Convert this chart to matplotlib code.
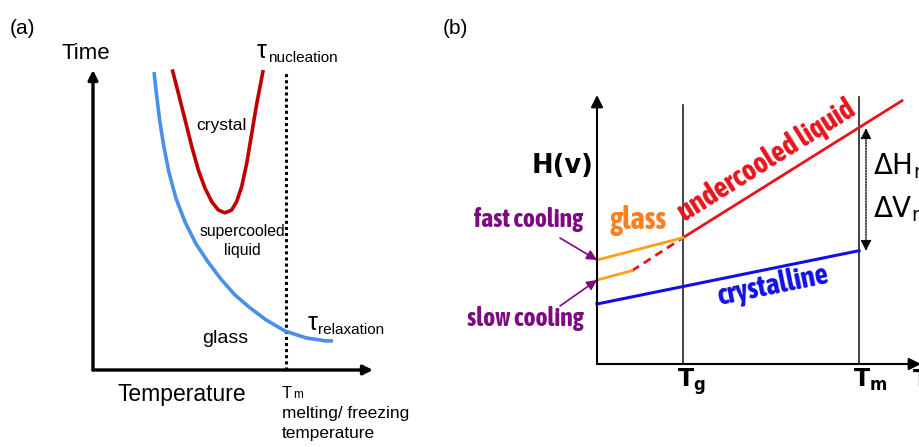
import numpy as np
import matplotlib.pyplot as plt

plt.rcParams['font.family'] = ['Liberation Sans', 'DejaVu Sans']
plt.rcParams['mathtext.fontset'] = 'dejavusans'

# ---- panel (a): time vs temperature ----
# relaxation time curve (blue)
relax_T = [2.18, 2.27, 2.38, 2.52, 2.71, 2.96, 3.29, 3.68, 4.11, 4.57, 5.07,
           5.61, 6.18, 6.86, 7.61, 8.32, 8.57]
relax_t = [9.93, 9.17, 8.33, 7.50, 6.60, 5.73, 4.93, 4.20, 3.60, 3.03, 2.50,
           2.07, 1.67, 1.30, 1.07, 0.97, 0.97]
# nucleation time curve (red)
nucl_T = [2.83, 3.05, 3.29, 3.53, 3.76, 4.00, 4.24, 4.48, 4.71, 4.95, 5.13,
          5.31, 5.49, 5.67, 5.85, 6.08]
nucl_t = [10.02, 9.22, 8.33, 7.44, 6.67, 6.06, 5.61, 5.33, 5.24, 5.33, 5.61,
          6.11, 6.89, 7.89, 8.89, 10.00]
Tm_a = 6.88

# ---- panel (b): enthalpy / volume vs temperature ----
Tg = 8.6
Tm = 26.2
liquid_T = [8.6, 30.5]
liquid_H = [12.63, 26.33]
liquid_ext_T = [3.5, 8.6]
liquid_ext_H = [9.33, 12.63]
fast_T = [0.0, 8.6]
fast_H = [10.4, 12.63]
slow_T = [0.0, 3.5]
slow_H = [8.4, 9.33]
cryst_T = [0.0, 26.2]
cryst_H = [6.0, 11.33]
gap_top = 23.6
gap_bot = 11.3

W, H = 920, 447
fig = plt.figure(figsize=(W / 100, H / 100), dpi=100)


def px_axes(x0, y0, x1, y1):
    # axes placed by pixel box (x0,y0 = bottom-left corner, y measured from top)
    return fig.add_axes([x0 / W, 1 - y0 / H, (x1 - x0) / W, (y0 - y1) / H])


narrow = ['Asap Condensed', 'DejaVu Sans']

# ================= (a) =================
ax = px_axes(93, 370, 373, 70)
ax.set_xlim(0, 10)
ax.set_ylim(0, 10)
ax.axis('off')

arrow_a = dict(arrowstyle='-|>', color='black', lw=2.4,
               mutation_scale=14, shrinkA=0, shrinkB=0)
ax.annotate('', xy=(0, 10), xytext=(0, 0), arrowprops=arrow_a,
            annotation_clip=False)
ax.annotate('', xy=(10, 0), xytext=(0, 0), arrowprops=arrow_a,
            annotation_clip=False)

ax.plot([Tm_a, Tm_a], [0, 9.95], color='black', lw=2.2,
        linestyle=(0, (1, 1)), clip_on=False)
ax.plot(relax_T, relax_t, color='#4b8fe8', lw=2.6, clip_on=False,
        solid_capstyle='butt', solid_joinstyle='round')
ax.plot(nucl_T, nucl_t, color='#c00000', lw=2.6, clip_on=False,
        solid_capstyle='butt', solid_joinstyle='round')

ax.text(-1.11, 10.37, 'Time', fontsize=16, va='baseline')
ax.text(0.89, -1.05, 'Temperature', fontsize=16.5, va='baseline')
ax.text(4.6, 8.0, 'crystal', fontsize=12.5, ha='center', va='baseline')
ax.text(5.32, 4.48, 'supercooled', fontsize=11.3, ha='center', va='baseline')
ax.text(5.32, 3.83, 'liquid', fontsize=11.3, ha='center', va='baseline')
ax.text(4.71, 0.9, 'glass', fontsize=14, ha='center', va='baseline')
ax.text(5.86, 10.4, 'τ', fontsize=18, va='baseline')
ax.text(6.25, 10.27, 'nucleation', fontsize=11, va='baseline')
ax.text(7.68, 1.33, 'τ', fontsize=18, va='baseline')
ax.text(8.04, 1.2, 'relaxation', fontsize=11, va='baseline')
ax.text(6.75, -0.93, 'T', fontsize=12, va='baseline')
ax.text(7.14, -0.93, 'm', fontsize=8.5, va='baseline')
ax.text(6.75, -1.6, 'melting/ freezing', fontsize=12.4, va='baseline')
ax.text(6.75, -2.27, 'temperature', fontsize=12.4, va='baseline')

fig.text(10 / W, 1 - 34 / H, '(a)', fontsize=15, va='baseline')
fig.text(443 / W, 1 - 34 / H, '(b)', fontsize=15, va='baseline')

# ================= (b) =================
bx = px_axes(597, 364, 920, 95)
bx.set_xlim(0, 32.3)
bx.set_ylim(0, 26.9)
bx.axis('off')

arrow_b = dict(arrowstyle='-|>', color='black', lw=1.5,
               mutation_scale=18, shrinkA=0, shrinkB=0)
bx.annotate('', xy=(0, 26.9), xytext=(0, 0), arrowprops=arrow_b,
            annotation_clip=False)
bx.annotate('', xy=(32.4, 0), xytext=(0, 0), arrowprops=arrow_b,
            annotation_clip=False)
bx.plot([Tg, Tg], [0, 25.9], color='#222222', lw=1.2, clip_on=False)
bx.plot([Tm, Tm], [0, 26.7], color='#222222', lw=1.2, clip_on=False)

bx.plot(liquid_T, liquid_H, color='#e8141c', lw=2.0, clip_on=False)
bx.plot(liquid_ext_T, liquid_ext_H, color='#e8141c', lw=2.0,
        linestyle=(0, (3, 2)), clip_on=False)
bx.plot(fast_T, fast_H, color='#ff9f1a', lw=2.0, clip_on=False)
bx.plot(slow_T, slow_H, color='#ff9f1a', lw=2.0, clip_on=False)
bx.plot(cryst_T, cryst_H, color='#1010e6', lw=2.2, clip_on=False)

# melting gap
bx.annotate('', xy=(26.9, gap_top), xytext=(26.9, gap_bot),
            arrowprops=dict(arrowstyle='<|-|>', color='black', lw=1.0,
                            linestyle=(0, (1, 1)), mutation_scale=16,
                            shrinkA=0, shrinkB=0),
            annotation_clip=False)
bx.text(27.6, 19.0, r'$\Delta$H$_\mathrm{m}$', fontsize=20, va='baseline',
        family='DejaVu Sans')
bx.text(27.6, 14.7, r'$\Delta$V$_\mathrm{m}$', fontsize=20, va='baseline',
        family='DejaVu Sans')

# cooling arrows
purple = '#7c0a80'
arrow_p = dict(arrowstyle='-|>', color=purple, lw=1.2, mutation_scale=15,
               shrinkA=0, shrinkB=0)
bx.annotate('', xy=(0, fast_H[0]), xytext=(-3.7, 12.6), arrowprops=arrow_p,
            annotation_clip=False)
bx.annotate('', xy=(0, slow_H[0]), xytext=(-3.7, 5.8), arrowprops=arrow_p,
            annotation_clip=False)

bx.text(-6.8, 13.75, 'fast cooling', fontsize=18.5, fontweight='bold',
        color=purple, ha='center', va='baseline', family=narrow)
bx.text(-7.2, 3.8, 'slow cooling', fontsize=18.5, fontweight='bold',
        color=purple, ha='center', va='baseline', family=narrow)
bx.text(1.3, 13.5, 'glass', fontsize=22, fontweight='bold',
        color='#ff7f1e', va='baseline', family=narrow)
bx.text(-6.5, 19.1, 'H(v)', fontsize=18.5, fontweight='bold',
        va='baseline', family='DejaVu Sans')


def screen_angle(axis, xs, ys):
    p = axis.transData.transform(np.column_stack([xs, ys]))
    return np.degrees(np.arctan2(p[1, 1] - p[0, 1], p[1, 0] - p[0, 0]))


bx.text(8.8, 14.2, 'undercooled liquid', fontsize=21, fontweight='bold',
        color='#e8141c', family=narrow, ha='left', va='baseline',
        rotation=screen_angle(bx, liquid_T, liquid_H), rotation_mode='anchor')
bx.text(12.2, 5.9, 'crystalline', fontsize=21, fontweight='bold',
        color='#1010e6', family=narrow, ha='left', va='baseline',
        rotation=screen_angle(bx, cryst_T, cryst_H), rotation_mode='anchor')

bx.text(8.0, -2.3, r'$\mathbf{T}_\mathbf{g}$', fontsize=17, ha='left',
        va='baseline')
bx.text(25.6, -2.3, r'$\mathbf{T}_\mathbf{m}$', fontsize=17, ha='left',
        va='baseline')
bx.text(31.5, -2.3, r'$\mathbf{T}$', fontsize=17, ha='left', va='baseline')

fig.savefig('out.png', dpi=100)
